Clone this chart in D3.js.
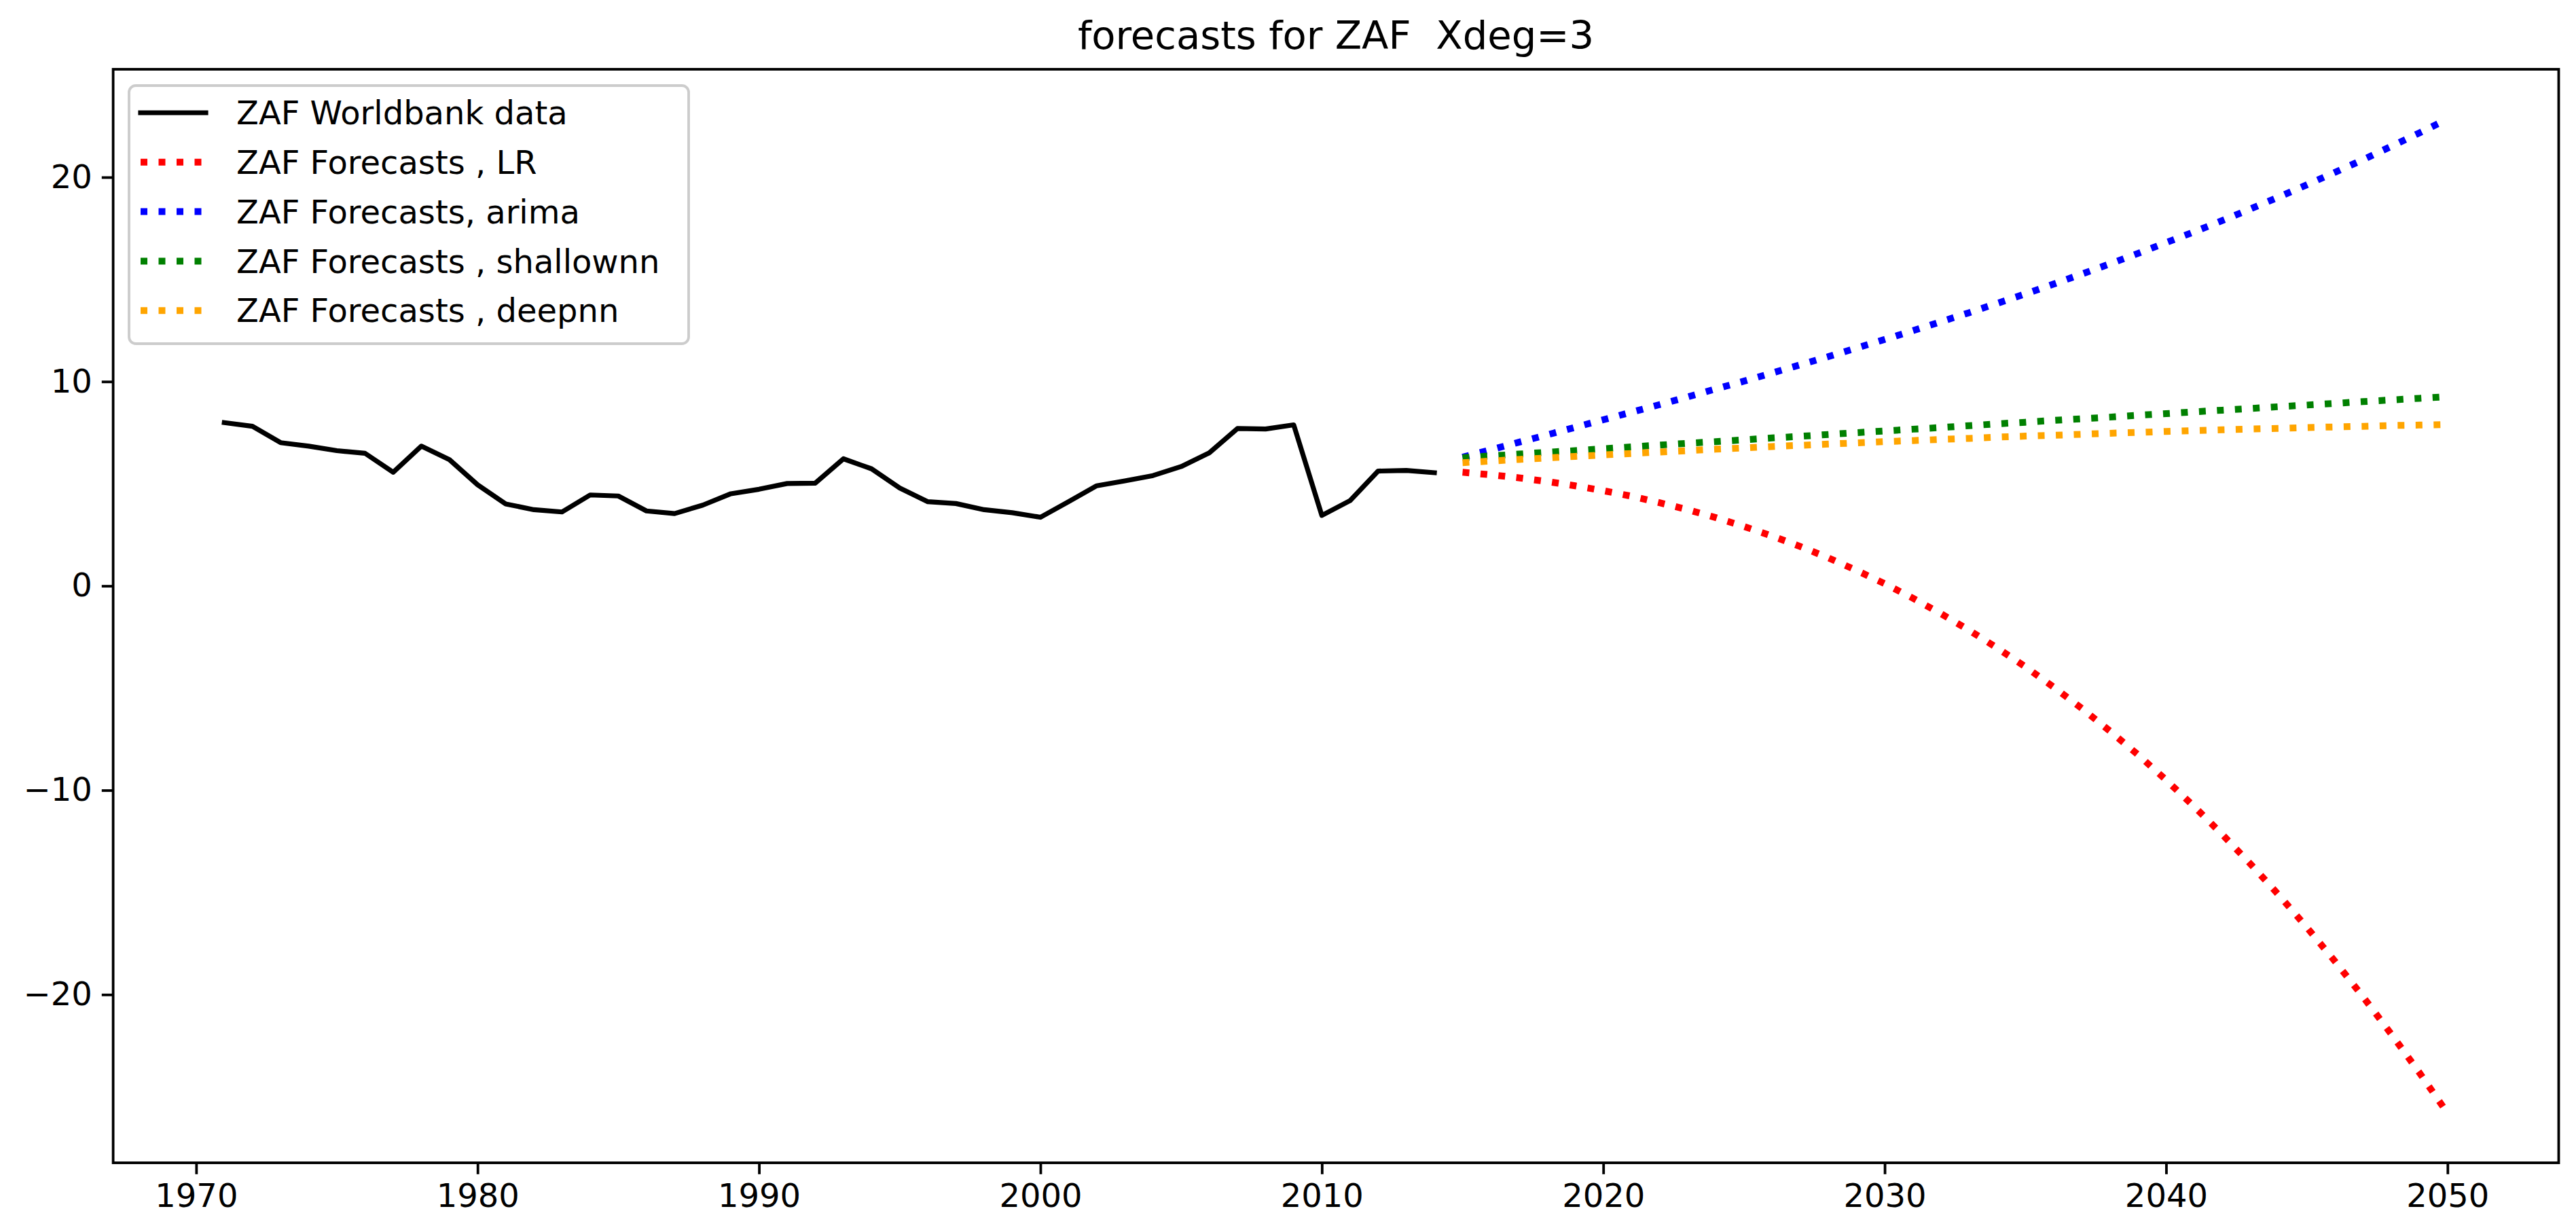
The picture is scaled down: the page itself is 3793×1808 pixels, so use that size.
<!DOCTYPE html>
<html>
<head>
<meta charset="utf-8">
<script src="https://cdn.jsdelivr.net/npm/d3@7"></script>
<style>
  html, body { margin: 0; padding: 0; background: #ffffff; }
  svg { display: block; }
  text { font-family: "DejaVu Sans", sans-serif; fill: #000; }
</style>
</head>
<body>
<script>
// ---------------- data ----------------
const histYears = d3.range(1971, 2015);
const worldbank = [7.99, 7.81, 7.01, 6.84, 6.62, 6.49, 5.56, 6.84, 6.18, 4.95,
  4.01, 3.73, 3.62, 4.45, 4.40, 3.67, 3.54, 3.95, 4.51, 4.73,
  5.01, 5.03, 6.22, 5.73, 4.79, 4.12, 4.03, 3.73, 3.58, 3.36,
  4.12, 4.90, 5.14, 5.40, 5.84, 6.51, 7.70, 7.68, 7.88, 3.45,
  4.17, 5.62, 5.65, 5.54];

const fcYears = d3.range(2015, 2051);
const forecastLR = [5.56, 5.44, 5.29, 5.11, 4.90, 4.66, 4.39, 4.07, 3.73, 3.34,
  2.91, 2.44, 1.93, 1.37, 0.76, 0.11, -0.60, -1.36, -2.17, -3.04,
  -3.96, -4.95, -5.99, -7.10, -8.26, -9.50, -10.80, -12.17, -13.61, -15.12,
  -16.71, -18.37, -20.11, -21.93, -23.82, -25.80];
const forecastArima = [6.30, 6.66, 7.03, 7.39, 7.76, 8.13, 8.50, 8.87, 9.25, 9.64,
  10.02, 10.42, 10.82, 11.22, 11.64, 12.06, 12.49, 12.93, 13.37, 13.83,
  14.29, 14.77, 15.26, 15.76, 16.27, 16.80, 17.33, 17.88, 18.45, 19.03,
  19.63, 20.24, 20.86, 21.51, 22.17, 22.85];
const forecastShallow = [6.27, 6.36, 6.45, 6.54, 6.62, 6.71, 6.80, 6.89, 6.98, 7.06,
  7.15, 7.24, 7.32, 7.41, 7.50, 7.58, 7.67, 7.75, 7.84, 7.93,
  8.01, 8.10, 8.18, 8.26, 8.35, 8.43, 8.52, 8.60, 8.68, 8.77,
  8.85, 8.93, 9.02, 9.10, 9.18, 9.26];
const forecastDeep = [6.03, 6.11, 6.19, 6.26, 6.34, 6.41, 6.48, 6.55, 6.62, 6.69,
  6.75, 6.82, 6.88, 6.94, 7.00, 7.06, 7.11, 7.17, 7.22, 7.28,
  7.33, 7.37, 7.42, 7.47, 7.51, 7.56, 7.60, 7.64, 7.68, 7.71,
  7.75, 7.78, 7.81, 7.85, 7.87, 7.90];

const xTicks = [1970, 1980, 1990, 2000, 2010, 2020, 2030, 2040, 2050];
const yTicks = [-20, -10, 0, 10, 20];
const titleText = "forecasts for ZAF  Xdeg=3";

const seriesNames = ["ZAF Worldbank data", "ZAF Forecasts , LR", "ZAF Forecasts, arima",
  "ZAF Forecasts , shallownn", "ZAF Forecasts , deepnn"];
const seriesColors = ["#000000", "#ff0000", "#0000ff", "#008000", "#ffa500"];

// ---------------- layout ----------------
const W = 3793, H = 1808;
const plot = { left: 166.6, right: 3767.5, top: 102, bottom: 1712 };
const fontTick = 48, fontTitle = 57.6;
const dotLW = 10, dotDash = "10,16.5";

const series = [
  { name: seriesNames[0], color: seriesColors[0], years: histYears, values: worldbank, dotted: false },
  { name: seriesNames[1], color: seriesColors[1], years: fcYears, values: forecastLR, dotted: true },
  { name: seriesNames[2], color: seriesColors[2], years: fcYears, values: forecastArima, dotted: true },
  { name: seriesNames[3], color: seriesColors[3], years: fcYears, values: forecastShallow, dotted: true },
  { name: seriesNames[4], color: seriesColors[4], years: fcYears, values: forecastDeep, dotted: true }
];

// matplotlib-like 5% margins
const allX = [...histYears, ...fcYears];
const allY = [...worldbank, ...forecastLR, ...forecastArima, ...forecastShallow, ...forecastDeep];
const [xmin, xmax] = d3.extent(allX);
const [ymin, ymax] = d3.extent(allY);
const xpad = (xmax - xmin) * 0.05, ypad = (ymax - ymin) * 0.05;

const x = d3.scaleLinear().domain([xmin - xpad, xmax + xpad]).range([plot.left, plot.right]);
const y = d3.scaleLinear().domain([ymin - ypad, ymax + ypad]).range([plot.bottom, plot.top]);

const svg = d3.select("body").append("svg").attr("width", W).attr("height", H);
svg.append("rect").attr("width", W).attr("height", H).attr("fill", "#fff");

// clip
svg.append("clipPath").attr("id", "clip").append("rect")
  .attr("x", plot.left).attr("y", plot.top)
  .attr("width", plot.right - plot.left).attr("height", plot.bottom - plot.top);

// lines
const line = d3.line().x(d => x(d[0])).y(d => y(d[1]));
const gLines = svg.append("g").attr("clip-path", "url(#clip)");
series.forEach(s => {
  const pts = s.years.map((yr, i) => [yr, s.values[i]]);
  const p = gLines.append("path").datum(pts)
    .attr("d", line)
    .attr("fill", "none")
    .attr("stroke", s.color);
  if (s.dotted) {
    p.attr("stroke-width", dotLW).attr("stroke-dasharray", dotDash).attr("stroke-linecap", "butt");
  } else {
    p.attr("stroke-width", 7.2).attr("stroke-linejoin", "round").attr("stroke-linecap", "square");
  }
});

// axes
const tickFmt = d => (d < 0 ? "\u2212" + Math.abs(d) : String(d));
const xAxis = d3.axisBottom(x).tickValues(xTicks).tickFormat(d3.format("d")).tickSize(16.8).tickPadding(14);
const yAxis = d3.axisLeft(y).tickValues(yTicks).tickFormat(tickFmt).tickSize(16.8).tickPadding(14);

const gx = svg.append("g").attr("transform", `translate(0,${plot.bottom})`).call(xAxis);
const gy = svg.append("g").attr("transform", `translate(${plot.left},0)`).call(yAxis);
[gx, gy].forEach(g => {
  g.select(".domain").remove();
  g.selectAll(".tick line").attr("stroke", "#000").attr("stroke-width", 3.84);
  g.selectAll(".tick text").attr("font-size", fontTick).attr("font-family", "DejaVu Sans").attr("fill", "#000");
});

// frame
svg.append("rect")
  .attr("x", plot.left).attr("y", plot.top)
  .attr("width", plot.right - plot.left).attr("height", plot.bottom - plot.top)
  .attr("fill", "none").attr("stroke", "#000").attr("stroke-width", 3.84);

// title
svg.append("text")
  .attr("x", (plot.left + plot.right) / 2)
  .attr("y", 72)
  .attr("text-anchor", "middle")
  .attr("font-size", fontTitle)
  .attr("xml:space", "preserve")
  .style("white-space", "pre")
  .text(titleText);

// legend
const leg = { x: 190, y: 126, w: 824, h: 380, row0: 166, rowH: 72.8, hx1: 207, hx2: 303, tx: 348 };
const gLeg = svg.append("g");
gLeg.append("rect")
  .attr("x", leg.x).attr("y", leg.y).attr("width", leg.w).attr("height", leg.h)
  .attr("rx", 10).attr("ry", 10)
  .attr("fill", "#fff").attr("fill-opacity", 0.8)
  .attr("stroke", "#cccccc").attr("stroke-width", 3.84);
series.forEach((s, i) => {
  const cy = leg.row0 + i * leg.rowH;
  const l = gLeg.append("line")
    .attr("x1", leg.hx1).attr("x2", leg.hx2).attr("y1", cy).attr("y2", cy)
    .attr("stroke", s.color);
  if (s.dotted) l.attr("stroke-width", dotLW).attr("stroke-dasharray", dotDash);
  else l.attr("stroke-width", 7.2).attr("stroke-linecap", "square");
  gLeg.append("text")
    .attr("x", leg.tx).attr("y", cy)
    .attr("dy", "0.36em")
    .attr("font-size", fontTick)
    .text(s.name);
});
</script>
</body>
</html>
